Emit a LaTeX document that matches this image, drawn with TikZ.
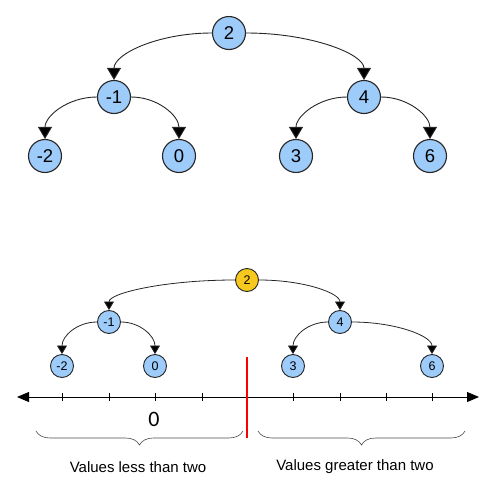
\documentclass[tikz,border=0pt]{standalone}
\usepackage{fontspec}
\setmainfont{Liberation Sans}
\newfontfamily\zerofont{Carlito}
\usetikzlibrary{arrows.meta,decorations.pathreplacing}
\definecolor{nodeblue}{HTML}{9DCBFA}
\definecolor{nodeyellow}{HTML}{F7C81E}
\definecolor{edgegray}{HTML}{262626}
\begin{document}
\begin{tikzpicture}[x=1pt,y=-1pt,
  bignode/.style={circle,draw=edgegray,line width=1.1pt,fill=nodeblue,minimum size=33pt,inner sep=0pt,font=\fontsize{18.5}{18.5}\selectfont},
  smallnode/.style={circle,draw=edgegray,line width=0.9pt,fill=nodeblue,minimum size=23pt,inner sep=0pt,font=\fontsize{12.5}{12.5}\selectfont},
  bigedge/.style={draw=edgegray,line width=0.9pt,-{Triangle[length=12pt,width=14pt,fill=black]}},
  smalledge/.style={draw=edgegray,line width=0.8pt,-{Triangle[length=8.5pt,width=10pt,fill=black]}},
  tickmark/.style={draw=black,line width=0.7pt},
  bracestyle/.style={draw=black!70,line width=0.6pt,decorate,decoration={brace,mirror,amplitude=14pt}},
  labeltext/.style={font=\fontsize{15}{15}\selectfont}
]
\useasboundingbox (0,0) rectangle (499,496);
% top tree
\node[bignode] (t2) at (229,33) {2};
\node[bignode] (tm1) at (114,97) {-1};
\node[bignode] (t4) at (364,97) {4};
\node[bignode] (tm2) at (45,156) {-2};
\node[bignode] (t0) at (179,156) {0};
\node[bignode] (t3) at (296,156) {3};
\node[bignode] (t6) at (430,156) {6};
\draw[bigedge] (t2.west) to[out=180,in=90,out distance=54pt,in distance=26pt] (tm1.north);
\draw[bigedge] (t2.east) to[out=0,in=90,out distance=65pt,in distance=26pt] (t4.north);
\draw[bigedge] (tm1.west) to[out=180,in=90,out distance=29pt,in distance=23pt] (tm2.north);
\draw[bigedge] (tm1.east) to[out=0,in=90,out distance=27pt,in distance=23pt] (t0.north);
\draw[bigedge] (t4.west) to[out=180,in=90,out distance=28pt,in distance=23pt] (t3.north);
\draw[bigedge] (t4.east) to[out=0,in=90,out distance=27pt,in distance=23pt] (t6.north);
% bottom tree
\node[smallnode,fill=nodeyellow] (b2) at (247,280) {2};
\node[smallnode] (bm1) at (109,322) {-1};
\node[smallnode] (b4) at (340,322) {4};
\node[smallnode] (bm2) at (62,366) {-2};
\node[smallnode] (b0) at (155,366) {0};
\node[smallnode] (b3) at (293,366) {3};
\node[smallnode] (b6) at (432,366) {6};
\draw[smalledge] (b2.west) to[out=180,in=90,out distance=70pt,in distance=17pt] (bm1.north);
\draw[smalledge] (b2.east) to[out=0,in=90,out distance=45pt,in distance=17pt] (b4.north);
\draw[smalledge] (bm1.west) to[out=180,in=90,out distance=20pt,in distance=18pt] (bm2.north);
\draw[smalledge] (bm1.east) to[out=0,in=90,out distance=19pt,in distance=18pt] (b0.north);
\draw[smalledge] (b4.west) to[out=180,in=90,out distance=20pt,in distance=18pt] (b3.north);
\draw[smalledge] (b4.east) to[out=0,in=90,out distance=44pt,in distance=18pt] (b6.north);
% number line
\coordinate (nlL) at (17,397);
\coordinate (nlR) at (479,397);
\draw[line width=0.8pt,{Triangle[length=12pt,width=10pt]}-{Triangle[length=12pt,width=10pt]}] (nlL) -- (nlR);
\foreach \x in {62,109,155,202,293,340,386,432}
  \draw[tickmark] (\x,393) -- (\x,401);
\coordinate (redtop) at (247,357);
\coordinate (redbot) at (247,438);
\draw[red,line width=1.3pt] (redtop) -- (redbot);
\node[font=\zerofont\fontsize{22}{22}\selectfont] (zero) at (154,419) {0};
% braces
\coordinate (lbA) at (36,431);
\coordinate (lbB) at (243,431);
\coordinate (rbA) at (258,431);
\coordinate (rbB) at (465,431);
\draw[bracestyle] (lbA) -- (lbB);
\draw[bracestyle] (rbA) -- (rbB);
\node[labeltext] (lessl) at (138,467) {Values less than two};
\node[labeltext] (greatl) at (355,467) {Values greater than two};
\end{tikzpicture}
\end{document}
